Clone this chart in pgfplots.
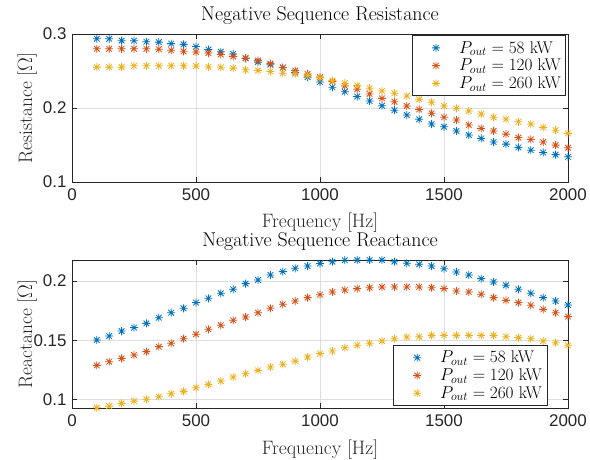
\documentclass[border=0pt]{standalone}
\usepackage{pgfplots}
\usepackage{pgfplotstable}
\pgfplotsset{compat=1.18}
\usepackage{fontspec}
\newfontfamily\ticksf{Liberation Sans}
\definecolor{mblue}{rgb}{0,0.447,0.741}
\definecolor{mred}{rgb}{0.85,0.325,0.098}
\definecolor{myel}{rgb}{0.929,0.694,0.125}
\definecolor{axgray}{rgb}{0.15,0.15,0.15}
\definecolor{gridgray}{rgb}{0.87,0.87,0.87}
\pgfdeclareplotmark{mstar}{%
 \pgfpathmoveto{\pgfqpoint{-\pgfplotmarksize}{0pt}}\pgfpathlineto{\pgfqpoint{\pgfplotmarksize}{0pt}}%
 \pgfpathmoveto{\pgfqpoint{0pt}{-\pgfplotmarksize}}\pgfpathlineto{\pgfqpoint{0pt}{\pgfplotmarksize}}%
 \pgfpathmoveto{\pgfqpoint{-.707\pgfplotmarksize}{-.707\pgfplotmarksize}}\pgfpathlineto{\pgfqpoint{.707\pgfplotmarksize}{.707\pgfplotmarksize}}%
 \pgfpathmoveto{\pgfqpoint{-.707\pgfplotmarksize}{.707\pgfplotmarksize}}\pgfpathlineto{\pgfqpoint{.707\pgfplotmarksize}{-.707\pgfplotmarksize}}%
 \pgfusepathqstroke}
\pgfplotstableread{
f r58 r120 r260 x58 x120 x260
100 0.2936 0.2800 0.2552 0.1503 0.1289 0.0932
150 0.2935 0.2800 0.2552 0.1536 0.1320 0.0946
200 0.2910 0.2800 0.2552 0.1578 0.1348 0.0969
250 0.2910 0.2800 0.2570 0.1607 0.1376 0.0988
300 0.2895 0.2800 0.2570 0.1643 0.1405 0.1003
350 0.2890 0.2795 0.2570 0.1691 0.1447 0.1025
400 0.2870 0.2780 0.2570 0.1733 0.1475 0.1050
450 0.2860 0.2766 0.2570 0.1770 0.1514 0.1070
500 0.2830 0.2756 0.2568 0.1818 0.1551 0.1101
550 0.2790 0.2742 0.2555 0.1854 0.1593 0.1129
600 0.2760 0.2723 0.2550 0.1896 0.1627 0.1157
650 0.2730 0.2696 0.2539 0.1930 0.1669 0.1191
700 0.2670 0.2674 0.2516 0.1978 0.1696 0.1219
750 0.2620 0.2642 0.2506 0.2008 0.1733 0.1247
800 0.2585 0.2600 0.2493 0.2051 0.1770 0.1275
850 0.2547 0.2547 0.2470 0.2079 0.1804 0.1298
900 0.2480 0.2506 0.2460 0.2107 0.1831 0.1325
950 0.2417 0.2460 0.2438 0.2126 0.1860 0.1359
1000 0.2350 0.2417 0.2405 0.2147 0.1885 0.1388
1050 0.2280 0.2357 0.2370 0.2163 0.1908 0.1410
1100 0.2220 0.2298 0.2335 0.2175 0.1924 0.1438
1150 0.2155 0.2253 0.2303 0.2177 0.1936 0.1458
1200 0.2095 0.2190 0.2267 0.2177 0.1944 0.1475
1250 0.2031 0.2130 0.2231 0.2177 0.1950 0.1494
1300 0.1970 0.2085 0.2200 0.2163 0.1950 0.1514
1350 0.1905 0.2027 0.2163 0.2149 0.1950 0.1528
1400 0.1847 0.1980 0.2118 0.2141 0.1950 0.1531
1450 0.1783 0.1928 0.2077 0.2126 0.1944 0.1542
1500 0.1746 0.1874 0.2027 0.2104 0.1936 0.1542
1550 0.1690 0.1837 0.1996 0.2076 0.1916 0.1542
1600 0.1634 0.1770 0.1960 0.2051 0.1908 0.1542
1650 0.1589 0.1724 0.1919 0.2020 0.1888 0.1542
1700 0.1540 0.1690 0.1874 0.1992 0.1860 0.1542
1750 0.1512 0.1647 0.1850 0.1964 0.1837 0.1531
1800 0.1467 0.1600 0.1814 0.1930 0.1818 0.1523
1850 0.1430 0.1575 0.1783 0.1896 0.1795 0.1514
1900 0.1399 0.1540 0.1738 0.1860 0.1761 0.1494
1950 0.1370 0.1498 0.1700 0.1831 0.1733 0.1480
2000 0.1340 0.1462 0.1657 0.1798 0.1700 0.1458
}\data
\pgfplotsset{
  mleg/.style={legend image code/.code={\path[draw=none,fill=none] (0bp,0bp) (42bp,0bp);\draw[mark repeat=2,mark phase=2,##1] plot coordinates {(0bp,0bp) (21bp,0bp) (42bp,0bp)};}},
  mstyle/.style={
    scale only axis, width=496bp, height=148bp,
    xmin=0, xmax=2000, xtick={0,500,1000,1500,2000},
    grid=major, major grid style={gridgray, line width=0.5bp},
    axis line style={axgray, line width=0.6bp},
    tick style={axgray, line width=0.6bp},
    major tick length=5bp, tick align=inside,
    ticklabel style={font=\ticksf\fontsize{17}{20}\selectfont, text=axgray},
    xticklabel style={yshift=-3bp},
    yticklabel style={xshift=-2bp},
    /pgf/number format/assume math mode=true,
    /pgf/number format/1000 sep={},
    label style={font=\fontsize{19.5}{23}\selectfont, text=axgray, inner sep=0.5bp},
    title style={font=\fontsize{20}{24}\selectfont, text=black, inner sep=0.5bp,
      at={(axis description cs:0.5,1)}, anchor=base, yshift=8bp},
    xlabel style={at={(axis description cs:0.5,0)}, anchor=base, yshift=-46bp},
    ylabel style={at={(axis description cs:-0.09,0.5)}, anchor=center},
    legend style={draw=axgray, line width=0.6bp, font=\fontsize{17}{20}\selectfont,
      cells={anchor=west}, inner xsep=3bp, inner ysep=3.5bp, row sep=0.5bp},
    legend cell align=left,
    every axis plot/.append style={only marks, mark=mstar, mark size=4bp, line width=0.8bp},
  }
}
\begin{document}
\begin{tikzpicture}
\useasboundingbox (0,0) rectangle (590bp,460bp);
\begin{axis}[mstyle, at={(72bp,278bp)}, anchor=south west,
  ymin=0.1, ymax=0.3, ytick={0.1,0.2,0.3},
  title={Negative Sequence Resistance},
  xlabel={Frequency [Hz]}, ylabel={Resistance [$\Omega$]},
  legend style={at={(rel axis cs:0.996,0.99)}, anchor=north east}]
\addplot[mblue, mleg] table[x=f,y=r58]{\data};
\addplot[mred, mleg] table[x=f,y=r120]{\data};
\addplot[myel, mleg] table[x=f,y=r260]{\data};
\legend{$P_{out} = 58$ kW, $P_{out} = 120$ kW, $P_{out} = 260$ kW}
\end{axis}
\begin{axis}[mstyle, at={(72bp,52bp)}, anchor=south west,
  ymin=0.093, ymax=0.2177, ytick={0.1,0.15,0.2},
  title={Negative Sequence Reactance},
  xlabel={Frequency [Hz]}, ylabel={Reactance [$\Omega$]},
  legend style={at={(rel axis cs:0.958,0.016)}, anchor=south east}]
\addplot[mblue, mleg] table[x=f,y=x58]{\data};
\addplot[mred, mleg] table[x=f,y=x120]{\data};
\addplot[myel, mleg] table[x=f,y=x260]{\data};
\legend{$P_{out} = 58$ kW, $P_{out} = 120$ kW, $P_{out} = 260$ kW}
\end{axis}
\end{tikzpicture}
\end{document}
